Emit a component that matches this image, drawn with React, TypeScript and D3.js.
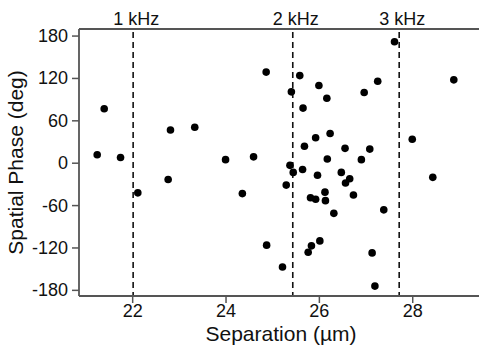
import * as d3 from "d3";
import React from "react";

// separation (µm) and spatial phase (deg)
const separation = [
  21.24, 21.39, 21.74, 22.11, 22.76, 22.81, 23.33, 23.99, 24.35, 24.59,
  24.86, 24.87, 25.21, 25.29, 25.37, 25.40, 25.44, 25.58, 25.64, 25.65,
  25.68, 25.76, 25.81, 25.83, 25.92, 25.92, 25.96, 25.99, 26.01, 26.12,
  26.13, 26.16, 26.17, 26.23, 26.31, 26.47, 26.55, 26.56, 26.65, 26.73,
  26.90, 26.96, 27.08, 27.13, 27.19, 27.25, 27.38, 27.61, 27.99, 28.43,
  28.88,
];
const phase = [
  12, 77, 8, -42, -23, 47, 51, 5, -43, 9,
  129, -116, -147, -31, -3, 101, -13, 124, -9, 78,
  24, -126, -49, -117, 36, -51, -17, 110, -110, -41,
  -53, 92, 6, 42, -71, -13, 21, -28, -22, -45,
  5, 100, 20, -127, -174, 116, -66, 172, 34, -20,
  118,
];

const freqLines = [22.01, 25.43, 27.71];
const freqLabels = ["1 kHz", "2 kHz", "3 kHz"];
const xTicks = [22, 24, 26, 28];
const yTicks = [180, 120, 60, 0, -60, -120, -180];

const W = 479;
const H = 348;
const m = { top: 29, right: 0, bottom: 52, left: 79 };
const font = "'Liberation Sans', Arial, Helvetica, sans-serif";
const axisColor = "#555";

export default function App() {
  const x = d3.scaleLinear().domain([20.85, 29.42]).range([m.left, W - m.right]);
  const y = d3.scaleLinear().domain([-188, 190]).range([H - m.bottom, m.top]);
  const y0 = H - m.bottom;
  const pts = separation.map((s, i) => ({ s, p: phase[i] }));

  return (
    <div style={{ position: "absolute", left: 0, top: 0 }}>
      <svg width={W} height={H} style={{ display: "block", background: "#fff" }} fontFamily={font}>
        {/* frequency markers */}
        {freqLines.map((f, i) => (
          <g key={f}>
            <line x1={x(f)} x2={x(f)} y1={m.top + 3} y2={y0} stroke="#111" strokeWidth={1.6} strokeDasharray="6 4" />
            <text x={x(f) + 3} y={25} textAnchor="middle" fontSize={18} fill="#111">{freqLabels[i]}</text>
          </g>
        ))}

        {/* axes */}
        <line x1={m.left} x2={W} y1={m.top} y2={m.top} stroke={axisColor} strokeWidth={1.8} />
        <line x1={m.left} x2={m.left} y1={m.top} y2={y0} stroke={axisColor} strokeWidth={1.8} />
        <line x1={m.left} x2={W} y1={y0} y2={y0} stroke={axisColor} strokeWidth={1.8} />

        {yTicks.map(t => (
          <g key={t}>
            <line x1={m.left - 7} x2={m.left} y1={y(t)} y2={y(t)} stroke={axisColor} strokeWidth={1.5} />
            <text x={68} y={y(t)} textAnchor="end" dominantBaseline="central" fontSize={18} fill="#111">{t}</text>
          </g>
        ))}
        {xTicks.map(t => (
          <g key={t}>
            <line x1={x(t)} x2={x(t)} y1={y0} y2={y0 + 7} stroke={axisColor} strokeWidth={1.5} />
            <text x={x(t)} y={317} textAnchor="middle" fontSize={18} fill="#111">{t}</text>
          </g>
        ))}

        {pts.map((d, i) => (
          <circle key={i} cx={x(d.s)} cy={y(d.p)} r={3.8} fill="#000" />
        ))}

        <text x={281} y={341} textAnchor="middle" fontSize={21} fill="#111">Separation (µm)</text>
        <text transform={`translate(23,${(m.top + y0) / 2}) rotate(-90)`} textAnchor="middle" fontSize={21} fill="#111">Spatial Phase (deg)</text>
      </svg>
    </div>
  );
}
